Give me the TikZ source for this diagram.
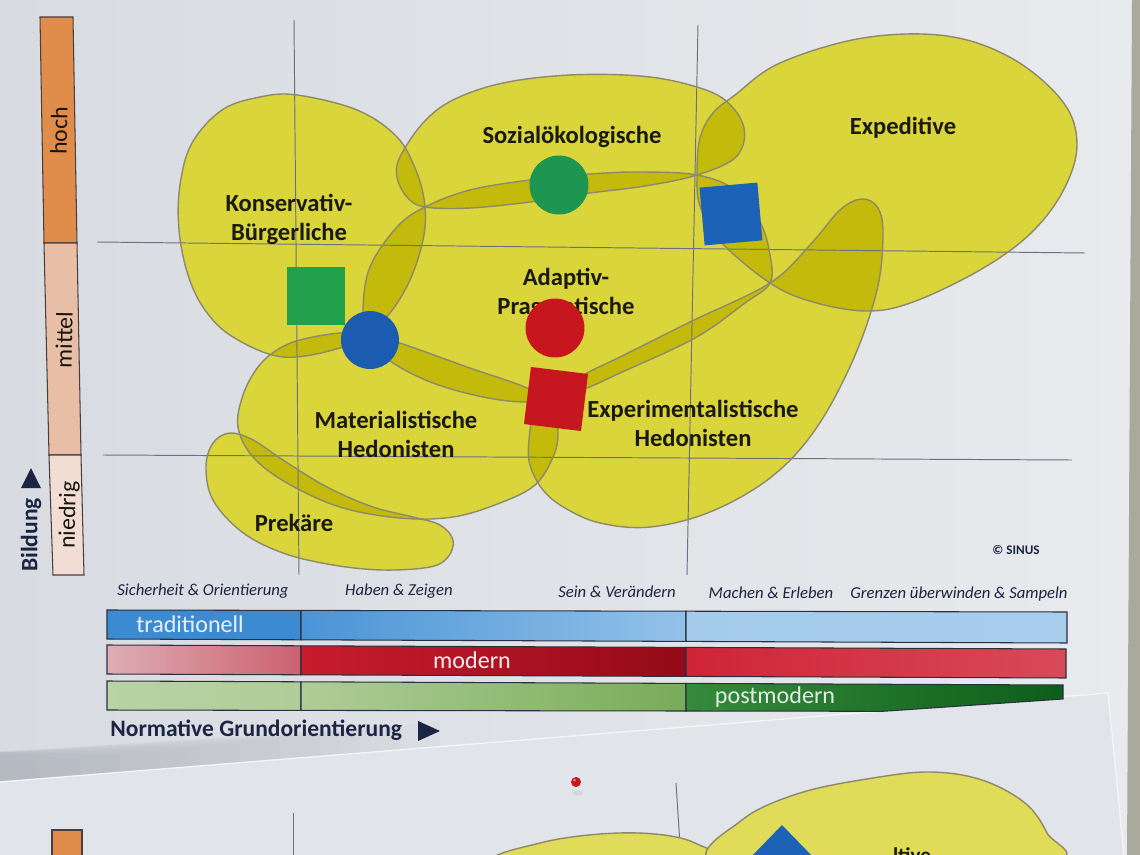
\documentclass[tikz,border=0pt]{standalone}
\usepackage{fontspec}
\setmainfont{Carlito}
\definecolor{paperL}{HTML}{D8DBE1}
\definecolor{paperR}{HTML}{E8EAED}
\definecolor{sheettwo}{HTML}{E1E4E8}
\definecolor{shadowc}{HTML}{8A8F99}
\definecolor{wall}{HTML}{A9AA9C}
\definecolor{yel}{HTML}{DAD53A}
\definecolor{yelov}{HTML}{C4BA0C}
\definecolor{blobedge}{HTML}{8C8A6C}
\definecolor{gridc}{HTML}{6B7084}
\definecolor{labc}{HTML}{1A1A12}
\definecolor{navy}{HTML}{1B2443}
\definecolor{grC}{HTML}{1C9650}
\definecolor{grS}{HTML}{22A04C}
\definecolor{blC}{HTML}{1B5BB0}
\definecolor{blS}{HTML}{1C63B8}
\definecolor{rdC}{HTML}{C8161E}
\definecolor{rdS}{HTML}{C6161F}
\definecolor{hochc}{HTML}{E08C4A}
\definecolor{mittc}{HTML}{E8BFA6}
\definecolor{niedc}{HTML}{F1DDD3}
\definecolor{barline}{HTML}{2A3040}
\definecolor{bA}{HTML}{3C8BD2}
\definecolor{bB}{HTML}{4A94D7}
\definecolor{bC}{HTML}{93C2E8}
\definecolor{bD}{HTML}{A5CBEB}
\definecolor{rA}{HTML}{DEADB4}
\definecolor{rB}{HTML}{CC6170}
\definecolor{rC}{HTML}{C81C2E}
\definecolor{rD}{HTML}{940A18}
\definecolor{rE}{HTML}{CF2436}
\definecolor{rF}{HTML}{D84A58}
\definecolor{gA}{HTML}{B9D3A3}
\definecolor{gB}{HTML}{AFCD98}
\definecolor{gC}{HTML}{78AC58}
\definecolor{gD}{HTML}{368A3C}
\definecolor{gE}{HTML}{0D5E1A}
\tikzset{
  blobline/.style={draw=blobedge, line width=0.8pt},
  gridline/.style={draw=gridc, line width=0.55pt},
  lab/.style={font=\bfseries\fontsize{14}{16.5}\selectfont, text=labc, align=center, inner sep=0pt},
  axlab/.style={font=\fontsize{13.5}{15}\selectfont, text=labc!85!black, inner sep=0pt, rotate=89},
  smalllab/.style={font=\itshape\fontsize{9.5}{11}\selectfont, text=navy, inner sep=0pt},
  bartext/.style={font=\fontsize{13.7}{15}\selectfont, inner sep=0pt},
  navylab/.style={font=\bfseries\fontsize{13.4}{15}\selectfont, text=navy, inner sep=0pt},
  marker/.style={inner sep=0pt, outer sep=0pt},
  barseg/.style={draw=barline, line width=0.6pt},
  sheetblob/.style={fill=yel!85!white, draw=blobedge, line width=0.8pt},
  shadowstrip/.style={fill=shadowc, fill opacity=0.045}
}
\def\pK{plot[smooth cycle,tension=0.6] coordinates {(297,95) (357,110) (397,137) (417,173) (425,207) (423,240) (410,280) (390,313) (368,333) (340,348) (283,357) (233,337) (205,310) (188,275) (179,230) (180,185) (192,143) (222,110) (260,97)}}
\def\pS{plot[smooth cycle,tension=0.6] coordinates {(425,207) (407,197) (397,177) (400,157) (423,123) (453,100) (503,83) (570,75) (640,76) (690,85) (725,100) (744,128) (736,157) (697,175) (645,186) (590,193) (530,202) (470,208)}}
\def\pA{plot[smooth cycle,tension=0.6] coordinates {(425,207) (470,190) (530,180) (590,174) (640,172) (697,175) (735,190) (760,222) (770,255) (770,283) (745,303) (695,338) (620,373) (587,388) (556,398) (525,402) (483,397) (433,383) (393,363) (368,340) (363,310) (370,267) (397,227)}}
\def\pM{plot[smooth cycle,tension=0.6] coordinates {(300,340) (340,333) (370,335) (400,343) (467,367) (527,388) (552,405) (558,433) (553,457) (535,485) (500,503) (453,517) (400,518) (340,507) (287,483) (253,457) (238,427) (243,395) (258,367) (277,350)}}
\def\pP{plot[smooth cycle,tension=0.6] coordinates {(230,433) (253,440) (283,460) (327,487) (373,507) (413,517) (440,525) (453,540) (448,557) (430,567) (383,570) (333,565) (283,553) (242,532) (213,500) (206,467) (213,443)}}
\def\pX{plot[smooth cycle,tension=0.6] coordinates {(587,373) (620,357) (690,322) (770,283) (810,245) (840,210) (862,199) (878,208) (883,235) (877,290) (853,360) (815,430) (770,478) (710,512) (650,527) (600,523) (565,508) (543,490) (530,465) (529,440) (535,415) (560,390)}}
\def\pE{plot[smooth cycle,tension=0.6] coordinates {(697,175) (700,138) (713,113) (735,95) (780,63) (863,38) (947,36) (1013,59) (1063,102) (1077,145) (1063,191) (1030,234) (980,270) (913,302) (867,311) (813,302) (770,283) (720,241) (700,206)}}
\newcommand{\overlap}[2]{\begin{scope}\clip #1; \fill[yelov] #2; \end{scope}}
\begin{document}
\begin{tikzpicture}[x=0.02cm,y=-0.02cm]
\useasboundingbox (0,0) rectangle (1140,855);
\clip (0,0) rectangle (1140,855);
% paper sheets
\shade[left color=paperL, right color=paperR] (0,0) rectangle (1134,856);
\fill[wall] (1132,0) -- (1141,0) -- (1141,856) -- (1127,856) -- cycle;
% soft shadow above the lower sheet's edge (stacked strips, darker at left)
\foreach \w in {40,80,...,440} {
  \fill[shadowstrip] (0,782) -- (\w,782-0.0785*\w) -- (\w,768-0.0785*\w-\w/40) -- (0,752) -- cycle;
}
\fill[sheettwo] (0,782) -- (1108,693) -- (1124,856) -- (0,856) -- cycle;
\draw[white!60!sheettwo, line width=0.8pt] (0,782) -- (1108,693) -- (1124,856);

% second sheet partial content
\filldraw[fill=hochc, draw=barline!80!brown, line width=0.6pt] (52,830) -- (82,830) -- (82,860) -- (52,860) -- cycle;
\draw[gridline] (293,813) -- (293,860);
\draw[gridline] (676,783) -- (681,860);
\path[sheetblob] plot[smooth cycle,tension=0.6] coordinates {(495,862) (540,843) (600,834) (655,834) (695,843) (718,864) (610,885)};
\path[sheetblob] plot[smooth cycle,tension=0.6] coordinates {(713,864) (742,820) (800,793) (873,778) (931,772) (982,780) (1025,803) (1047,833) (1056,864) (880,895)};
\fill[blS] (782,825) -- (814,858) -- (750,858) -- cycle;
\node[font=\bfseries\fontsize{12}{14}\selectfont, text=labc, inner sep=0pt, anchor=base] (cut) at (912,862) {ltive};
\fill[gray!40, opacity=0.6] (578,793) ellipse (5 and 2.5);
\fill[rdC] (576,782) circle (5);
\fill[white, opacity=0.5] (574.5,780) circle (1.5);

% Bildung bar
\filldraw[fill=hochc, draw=barline!80!brown, line width=0.6pt] (40,17) -- (73,17) -- (77,243) -- (44,243) -- cycle;
\filldraw[fill=mittc, draw=barline!80!brown, line width=0.6pt] (44,243) -- (77,243) -- (81,455) -- (49,455) -- cycle;
\filldraw[fill=niedc, draw=barline!80!brown, line width=0.6pt] (49,455) -- (81,455) -- (84,575) -- (53,575) -- cycle;
\node[axlab] (hoch) at (59,131) {hoch};
\node[axlab] (mittel) at (64,340) {mittel};
\node[axlab] (niedrig) at (69,515) {niedrig};
\node[navylab, rotate=90] (bildung) at (31,535) {Bildung};
\fill[navy] (21,488) -- (41,488) -- (31,468) -- cycle;

% blobs
\fill[yel] \pK; \fill[yel] \pS; \fill[yel] \pA; \fill[yel] \pM;
\fill[yel] \pP; \fill[yel] \pX; \fill[yel] \pE;
\overlap{\pK}{\pS}
\overlap{\pK}{\pA}
\overlap{\pK}{\pM}
\overlap{\pS}{\pA}
\overlap{\pS}{\pE}
\overlap{\pA}{\pE}
\overlap{\pA}{\pM}
\overlap{\pA}{\pX}
\overlap{\pM}{\pP}
\overlap{\pM}{\pX}
\overlap{\pE}{\pX}

% grid
\draw[gridline] (294,20) -- (299,575);
\draw[gridline] (698,25) -- (687,575);
\draw[gridline] (97,242) -- (1085,253);
\draw[gridline] (103,455) -- (1072,460);

% outlines
\draw[blobline] \pK; \draw[blobline] \pS; \draw[blobline] \pA; \draw[blobline] \pM;
\draw[blobline] \pP; \draw[blobline] \pX; \draw[blobline] \pE;

% labels
\node[lab] (kb) at (289,219) {Konservativ-\\Bürgerliche};
\node[lab] (so) at (572,137) {Sozialökologische};
\node[lab] (ex) at (903,128) {Expeditive};
\node[lab] (ap) at (566,293) {Adaptiv-\\Pragmatische};
\node[lab] (mh) at (396,434) {Materialistische\\Hedonisten};
\node[lab] (eh) at (693,423) {Experimentalistische\\Hedonisten};
\node[lab] (pr) at (294,523) {Prekäre};
\node[font=\bfseries\fontsize{7.5}{9}\selectfont, text=navy, inner sep=0pt] (sinus) at (1016,550) {© SINUS};

% markers
\node[marker, circle, fill=grC, minimum size=1.18cm] (gcirc) at (559,185) {};
\node[marker, rectangle, fill=blS, minimum size=1.16cm, rotate=5] (bsq) at (731,214) {};
\node[marker, rectangle, fill=grS, minimum size=1.18cm] (gsq) at (316,296) {};
\node[marker, circle, fill=blC, minimum size=1.16cm] (bcirc) at (370,340) {};
\node[marker, circle, fill=rdC, minimum size=1.18cm] (rcirc) at (555,328) {};
\node[marker, rectangle, fill=rdS, minimum size=1.15cm, rotate=-7] (rsq) at (556,399) {};

% orientation labels
\node[smalllab] (l1) at (203,591) {Sicherheit \& Orientierung};
\node[smalllab] (l2) at (399,591) {Haben \& Zeigen};
\node[smalllab] (l3) at (617,592) {Sein \& Verändern};
\node[smalllab] (l4) at (771,593) {Machen \& Erleben};
\node[smalllab] (l5) at (959,594) {Grenzen überwinden \& Sampeln};

% bars: traditionell
\shadedraw[barseg, left color=bA, right color=bA] (107,610) -- (301,610.4) -- (301,639.8) -- (107,639) -- cycle;
\shadedraw[barseg, left color=bB, right color=bC] (301,610.4) -- (686,611.2) -- (686,641.4) -- (301,639.8) -- cycle;
\shadedraw[barseg, left color=bD, right color=bD!95!white] (686,611.2) -- (1067,612) -- (1067,643) -- (686,641.4) -- cycle;
% modern
\shadedraw[barseg, left color=rA, right color=rB] (107,645) -- (301,645.8) -- (301,674.8) -- (107,674) -- cycle;
\shadedraw[barseg, left color=rC, right color=rD] (301,645.8) -- (686,647.4) -- (686,676.4) -- (301,674.8) -- cycle;
\shadedraw[barseg, left color=rE, right color=rF] (686,647.4) -- (1066,649) -- (1066,678) -- (686,676.4) -- cycle;
% postmodern
\shadedraw[barseg, left color=gA, right color=gB] (107,681) -- (301,681.8) -- (301,710.4) -- (107,710) -- cycle;
\shadedraw[barseg, left color=gB, right color=gC] (301,681.8) -- (686,683.4) -- (686,711) -- (301,710.4) -- cycle;
\shadedraw[barseg, left color=gD, right color=gE] (686,683.4) -- (1063,685) -- (1063,699) -- (883,711.3) -- (686,711) -- cycle;
\node[bartext, text=white!88!bA] (trad) at (190,624) {traditionell};
\node[bartext, text=white!92!rC] (mod) at (472,660) {modern};
\node[bartext, text=white!85!gD] (pmod) at (775,697) {postmodern};

% Normative axis
\node[navylab, anchor=west] (norm) at (110,730) {Normative Grundorientierung};
\fill[navy] (418,721) -- (440,731) -- (418,741) -- cycle;
\end{tikzpicture}
\end{document}
